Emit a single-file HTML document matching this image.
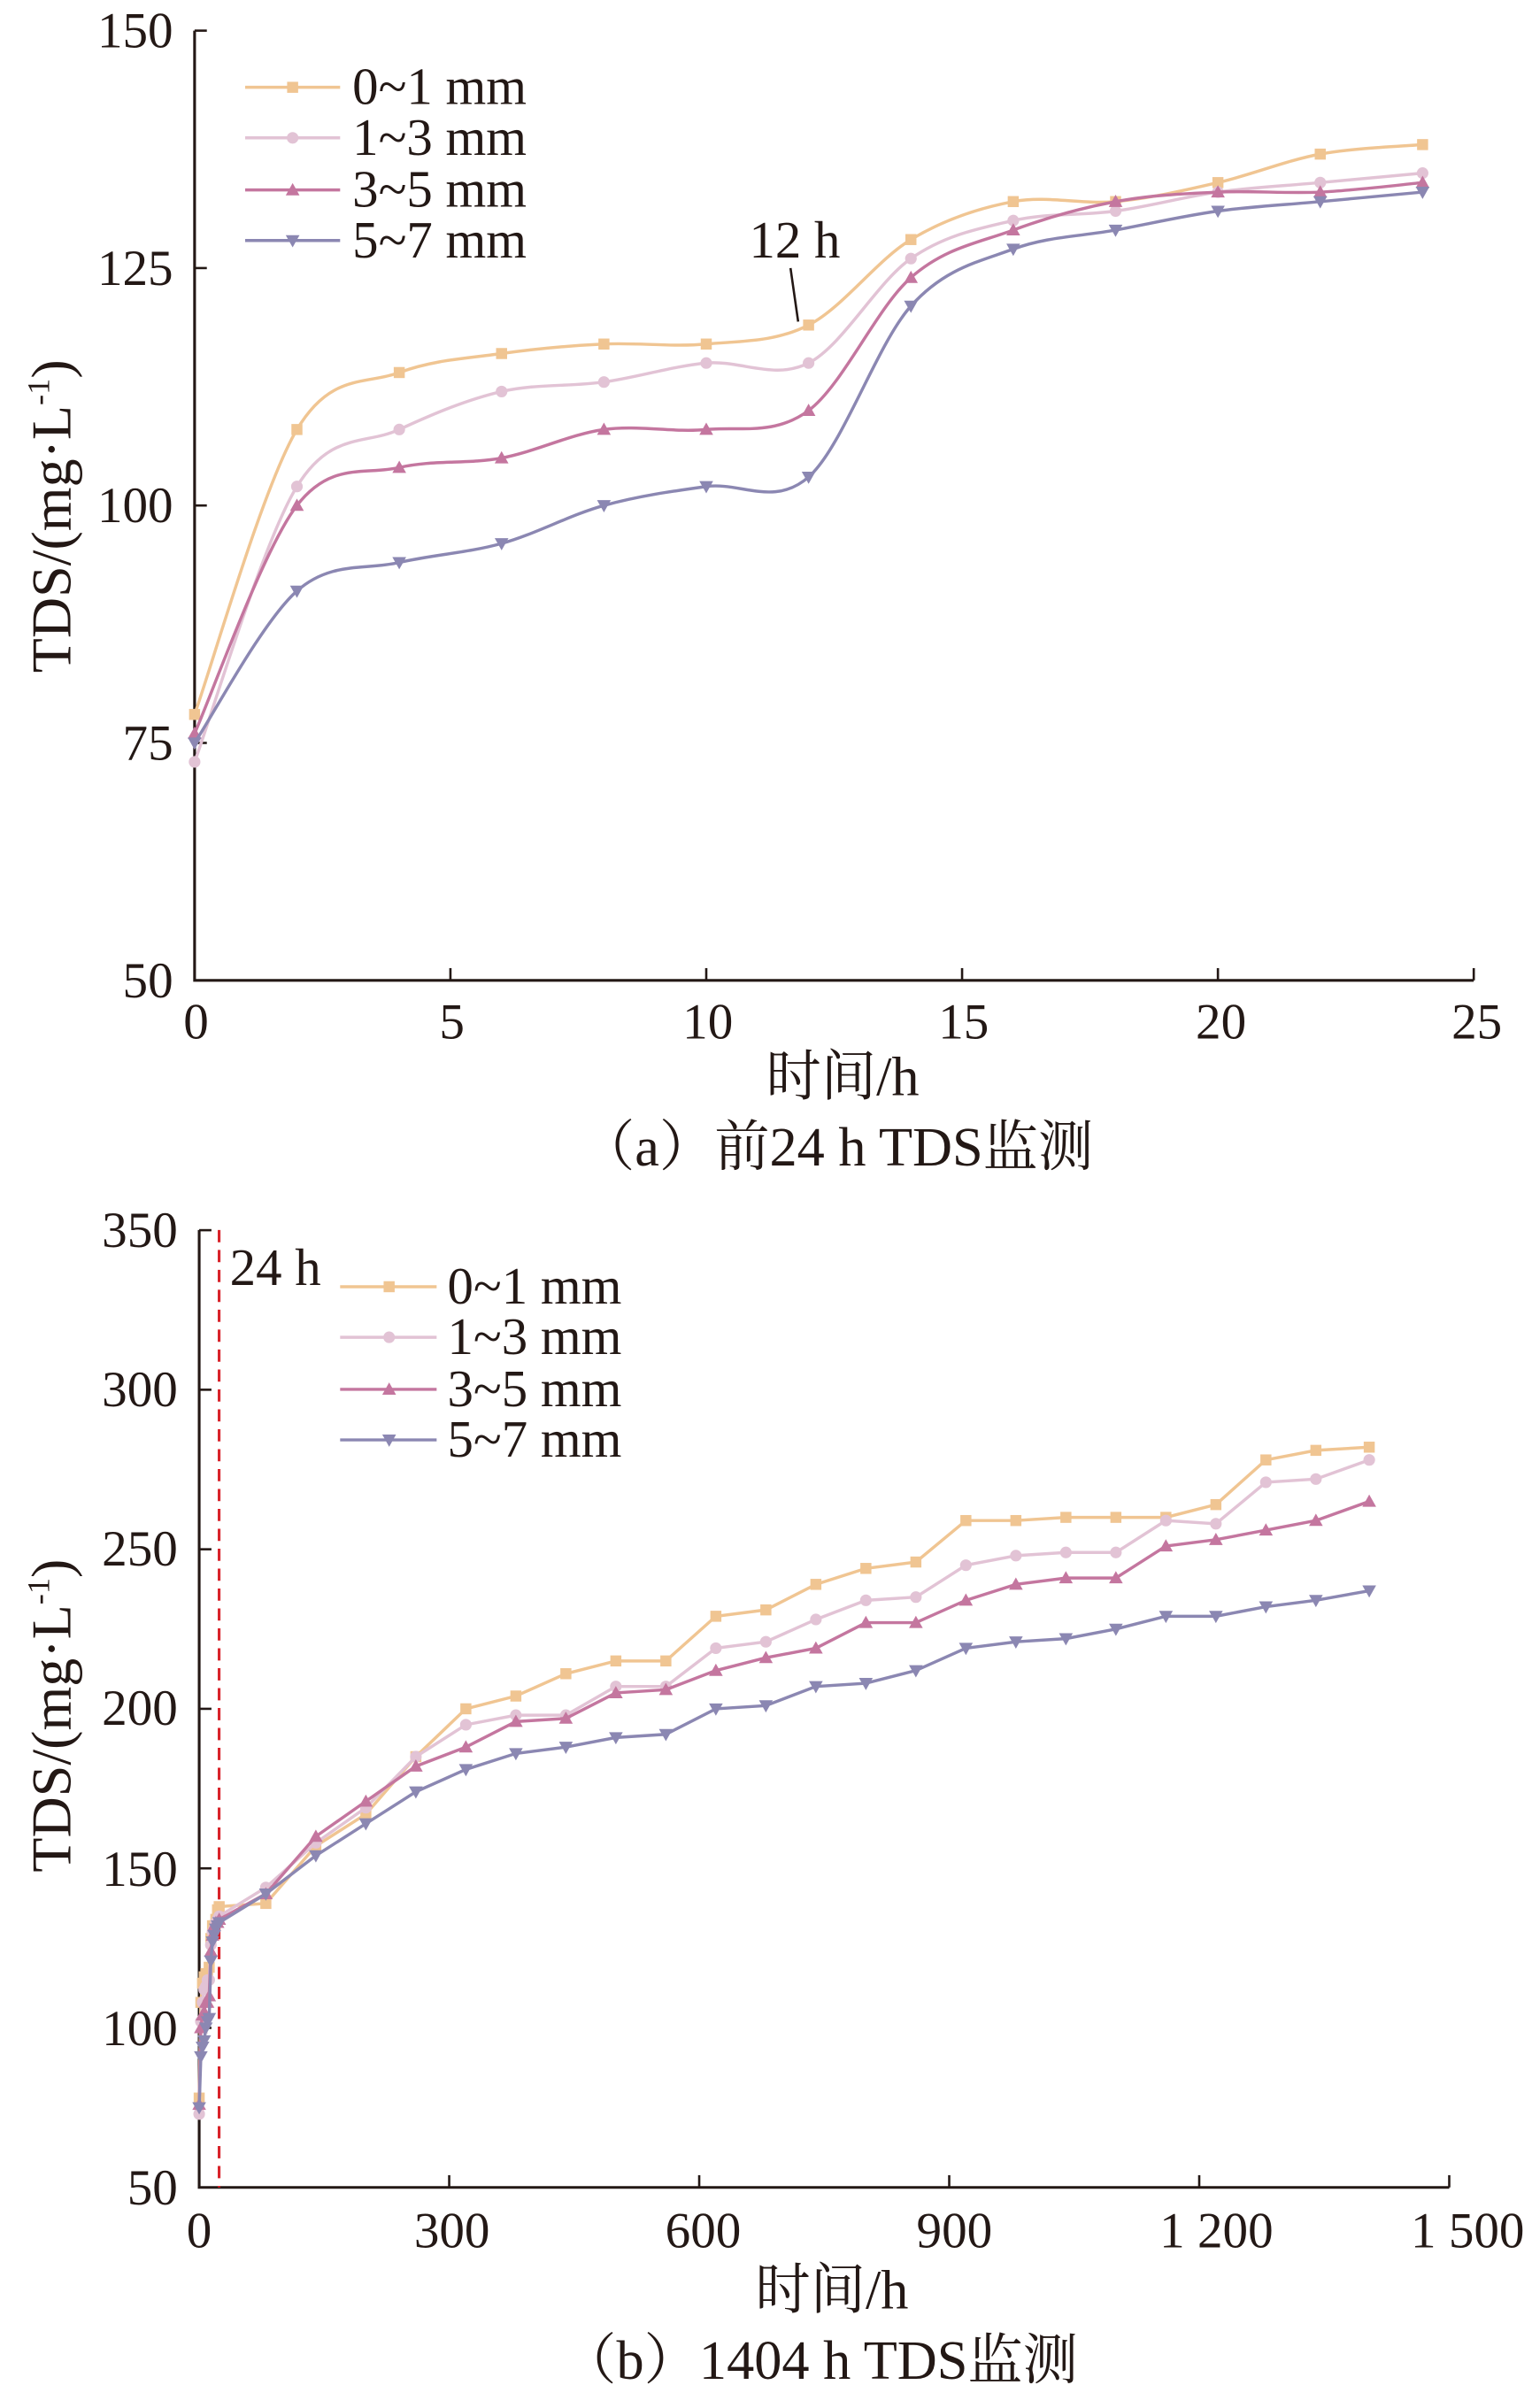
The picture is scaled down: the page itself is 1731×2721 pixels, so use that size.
<!DOCTYPE html>
<html><head><meta charset="utf-8"><style>
html,body{margin:0;padding:0;background:#fff}
svg{display:block}
text{font-family:"Liberation Serif","Noto Serif CJK SC",serif;fill:#231815}
</style></head><body>
<svg id="s" width="1731" height="2721" viewBox="0 0 1000 1572" xmlns="http://www.w3.org/2000/svg">
<rect width="1000" height="1572" fill="#fff"/>
<g id="a"></g>
<g id="b"></g>
<g font-size="33" text-anchor="end">
<text x="113" y="31">150</text><text x="113" y="186">125</text><text x="113" y="341">100</text><text x="113" y="496">75</text><text x="113" y="651">50</text>
</g>
<g font-size="33" text-anchor="middle">
<text x="128" y="678">0</text><text x="295" y="678">5</text><text x="462" y="678">10</text><text x="629" y="678">15</text><text x="797" y="678">20</text><text x="964" y="678">25</text>
</g>
<text x="550" y="715" font-size="36" text-anchor="middle">时间/h</text>
<text x="546" y="761" font-size="36" text-anchor="middle">（a）前24 h TDS监测</text>
<text transform="translate(46,337) rotate(-90)" font-size="37" text-anchor="middle">TDS/(mg·L<tspan font-size="21" dy="-14">-1</tspan><tspan dy="14">)</tspan></text>
<g font-size="34"><text x="230" y="68">0~1 mm</text><text x="230" y="101">1~3 mm</text><text x="230" y="135">3~5 mm</text><text x="230" y="168">5~7 mm</text></g>
<text x="489" y="168" font-size="34">12 h</text>
<line x1="516" y1="175" x2="521" y2="210" stroke="#231815" stroke-width="1.5"/>
<g font-size="33" text-anchor="end">
<text x="116" y="814">350</text><text x="116" y="918">300</text><text x="116" y="1022">250</text><text x="116" y="1126">200</text><text x="116" y="1231">150</text><text x="116" y="1335">100</text><text x="116" y="1439">50</text>
</g>
<g font-size="33" text-anchor="middle">
<text x="130" y="1467">0</text><text x="295" y="1467">300</text><text x="459" y="1467">600</text><text x="623" y="1467">900</text><text x="794" y="1467">1 200</text><text x="958" y="1467">1 500</text>
</g>
<text x="543" y="1507" font-size="36" text-anchor="middle">时间/h</text>
<text x="535" y="1553" font-size="36" text-anchor="middle">（b）1404 h TDS监测</text>
<text transform="translate(46,1120) rotate(-90)" font-size="37" text-anchor="middle">TDS/(mg·L<tspan font-size="21" dy="-14">-1</tspan><tspan dy="14">)</tspan></text>
<g font-size="34"><text x="292" y="851">0~1 mm</text><text x="292" y="884">1~3 mm</text><text x="292" y="918">3~5 mm</text><text x="292" y="951">5~7 mm</text></g>
<text x="150" y="839" font-size="34">24 h</text>
</svg>
<script>
const NS="http://www.w3.org/2000/svg";
function el(p,t,a){const e=document.createElementNS(NS,t);for(const k in a)e.setAttribute(k,a[k]);p.appendChild(e);return e;}
const C=["#f0c592","#e2c3d5","#c4769f","#8b87b2"];
function marker(g,i,x,y){const c=C[i];
 if(i==0)el(g,"rect",{x:x-3.6,y:y-3.6,width:7.2,height:7.2,fill:c});
 else if(i==1)el(g,"circle",{cx:x,cy:y,r:3.8,fill:c});
 else if(i==2)el(g,"path",{d:`M${x} ${y-4.5}L${x+4.5} ${y+3.5}L${x-4.5} ${y+3.5}Z`,fill:c});
 else el(g,"path",{d:`M${x} ${y+4.5}L${x+4.5} ${y-3.5}L${x-4.5} ${y-3.5}Z`,fill:c});}
function smooth(p){let d=`M${p[0][0]} ${p[0][1]}`;for(let i=0;i<p.length-1;i++){const p0=p[i-1]||p[i],p1=p[i],p2=p[i+1],p3=p[i+2]||p2;
 const c1=[p1[0]+(p2[0]-p0[0])/6,p1[1]+(p2[1]-p0[1])/6],c2=[p2[0]-(p3[0]-p1[0])/6,p2[1]-(p3[1]-p1[1])/6];
 d+=`C${c1[0]} ${c1[1]} ${c2[0]} ${c2[1]} ${p2[0]} ${p2[1]}`;}return d;}
const A=[[78,108,114,116,117,117,119,128,132,132,134,137,138],[73,102,108,112,113,115,115,126,130,131,133,134,135],[76,100,104,105,108,108,110,124,129,132,133,133,134],[75,91,94,96,100,102,103,121,127,129,131,132,133]];
const ga=document.getElementById("a");
const xa=t=>127+t*33.4, ya=v=>640-(v-50)*6.2;
el(ga,"path",{d:"M127 20V640H962",fill:"none",stroke:"#231815","stroke-width":1.8});
[150,125,100,75].forEach(v=>el(ga,"line",{x1:127,x2:135,y1:ya(v),y2:ya(v),stroke:"#231815","stroke-width":1.5}));
[5,10,15,20,25].forEach(t=>el(ga,"line",{x1:xa(t),x2:xa(t),y1:640,y2:632,stroke:"#231815","stroke-width":1.5}));
for(let i=0;i<4;i++){const pts=A[i].map((v,k)=>[xa(2*k),ya(v)]);
 el(ga,"path",{d:smooth(pts),fill:"none",stroke:C[i],"stroke-width":2});pts.forEach(p=>marker(ga,i,p[0],p[1]));
 const ly=[57,90,124,157][i];el(ga,"line",{x1:160,x2:222,y1:ly,y2:ly,stroke:C[i],"stroke-width":2});marker(ga,i,191,ly);}
const gb=document.getElementById("b");
const xb=t=>130+t*0.544, yb=v=>1428-(v-50)*2.083;
el(gb,"path",{d:"M130 803V1428H946",fill:"none",stroke:"#231815","stroke-width":1.8});
[350,300,250,200,150,100].forEach(v=>el(gb,"line",{x1:130,x2:138,y1:yb(v),y2:yb(v),stroke:"#231815","stroke-width":1.5}));
[300,600,900,1200,1500].forEach(t=>el(gb,"line",{x1:xb(t),x2:xb(t),y1:1428,y2:1420,stroke:"#231815","stroke-width":1.5}));
el(gb,"line",{x1:143,x2:143,y1:803,y2:1428,stroke:"#d8232a","stroke-width":1.8,"stroke-dasharray":"8 5"});
const TB=[80,140,200,260,320,380,440,500,560,620,680,740,800,860,920,980,1040,1100,1160,1220,1280,1340,1404];
const B=[[139,157,167,185,200,204,211,215,215,229,231,239,244,246,259,259,260,260,260,264,278,281,282],
[144,158,169,185,195,198,198,207,207,219,221,228,234,235,245,248,249,249,259,258,271,272,278],
[142,160,171,182,188,196,197,205,206,212,216,219,227,227,234,239,241,241,251,253,256,259,265],
[142,154,164,174,181,186,188,191,192,200,201,207,208,212,219,221,222,225,229,229,232,234,237]];
for(let i=0;i<4;i++){const pts=A[i].map((v,k)=>[xb(2*k),yb(v)]).concat(B[i].map((v,k)=>[xb(TB[k]),yb(v)]));
 el(gb,"polyline",{points:pts.map(p=>p.join(",")).join(" "),fill:"none",stroke:C[i],"stroke-width":2});pts.forEach(p=>marker(gb,i,p[0],p[1]));
 const ly=[840,873,907,940][i];el(gb,"line",{x1:222,x2:285,y1:ly,y2:ly,stroke:C[i],"stroke-width":2});marker(gb,i,254,ly);}
</script>
</body></html>
